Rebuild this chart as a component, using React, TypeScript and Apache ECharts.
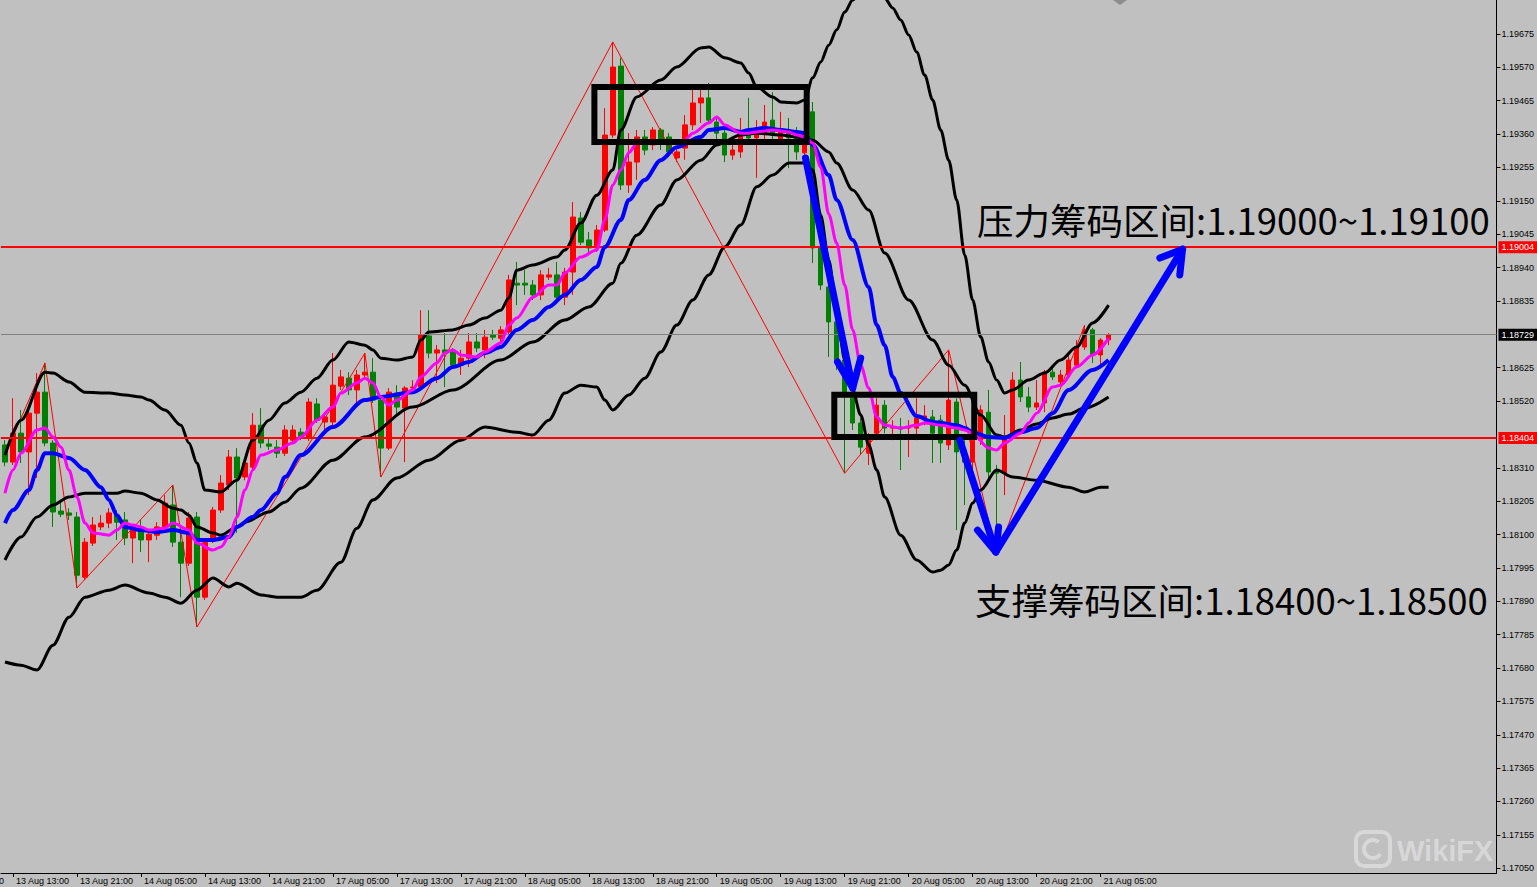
import React, { useEffect, useRef } from "react";
import * as echarts from "echarts";

// ---------- axis structure ----------
const sessionDays: [string, number, number][] = [
  ["13 Aug", 12, 23],
  ["14 Aug", 0, 23],
  ["17 Aug", 0, 23],
  ["18 Aug", 0, 23],
  ["19 Aug", 0, 23],
  ["20 Aug", 0, 23],
  ["21 Aug", 0, 6],
];
const emptySlots = 48;

const xTickLabels = [
  "13 Aug 13:00", "13 Aug 21:00", "14 Aug 05:00", "14 Aug 13:00", "14 Aug 21:00",
  "17 Aug 05:00", "17 Aug 13:00", "17 Aug 21:00", "18 Aug 05:00", "18 Aug 13:00",
  "18 Aug 21:00", "19 Aug 05:00", "19 Aug 13:00", "19 Aug 21:00", "20 Aug 05:00",
  "20 Aug 13:00", "20 Aug 21:00", "21 Aug 05:00",
];

const yTickValues = [
  1.1705, 1.17155, 1.1726, 1.17365, 1.1747, 1.17575, 1.1768, 1.17785, 1.1789,
  1.17995, 1.181, 1.18205, 1.1831, 1.1852, 1.18625, 1.18835, 1.1894, 1.19045,
  1.1915, 1.19255, 1.1936, 1.19465, 1.1957, 1.19675,
];
const yMin = 1.17035;
const yMax = 1.19782;

// ---------- price levels ----------
const resistanceLevel = 1.19004;
const supportLevel = 1.18404;
const bidPrice = 1.18729;

// ---------- candles: [open, close, low, high] ----------
const candles: number[][] = [
  [1.18382, 1.18328, 1.18315, 1.18397], [1.18328, 1.18419, 1.18319, 1.18529],
  [1.18419, 1.1836, 1.18325, 1.18492], [1.1836, 1.18482, 1.18224, 1.18498],
  [1.18482, 1.18548, 1.18278, 1.18608], [1.18548, 1.18388, 1.18378, 1.1864],
  [1.18388, 1.18171, 1.18124, 1.18397], [1.18174, 1.18164, 1.18155, 1.18209],
  [1.18168, 1.18161, 1.18146, 1.18183], [1.18155, 1.17972, 1.17932, 1.18171],
  [1.17966, 1.18076, 1.17957, 1.18089], [1.18073, 1.1813, 1.18064, 1.18155],
  [1.18124, 1.18136, 1.18114, 1.18161], [1.18136, 1.18168, 1.1812, 1.18183],
  [1.18161, 1.18139, 1.18083, 1.18177], [1.18146, 1.18089, 1.18067, 1.18171],
  [1.18089, 1.18117, 1.1801, 1.1813], [1.18114, 1.18083, 1.18045, 1.18146],
  [1.18083, 1.18101, 1.18013, 1.18114], [1.18098, 1.18124, 1.18083, 1.18139],
  [1.18124, 1.18199, 1.18114, 1.18224], [1.18193, 1.18076, 1.18061, 1.18256],
  [1.18076, 1.1801, 1.17903, 1.18114], [1.1801, 1.18152, 1.18001, 1.18171],
  [1.18155, 1.17903, 1.17809, 1.18171], [1.17903, 1.18076, 1.17894, 1.18083],
  [1.18083, 1.18177, 1.18073, 1.18187], [1.18177, 1.18262, 1.18168, 1.18287],
  [1.18256, 1.18344, 1.1824, 1.18366], [1.18344, 1.18278, 1.18105, 1.18372],
  [1.18281, 1.18325, 1.18271, 1.18341], [1.18312, 1.18444, 1.18303, 1.18482],
  [1.18444, 1.18388, 1.18372, 1.18498], [1.18385, 1.18378, 1.18366, 1.18404],
  [1.18375, 1.18356, 1.18341, 1.18397], [1.18356, 1.18429, 1.18347, 1.18444],
  [1.18397, 1.18429, 1.18388, 1.18444], [1.18422, 1.18407, 1.18397, 1.18435],
  [1.18404, 1.18517, 1.18394, 1.18529], [1.18511, 1.1846, 1.18451, 1.18529],
  [1.18454, 1.1847, 1.18429, 1.18485], [1.18454, 1.1857, 1.18444, 1.18671],
  [1.18567, 1.18596, 1.18555, 1.18618], [1.18592, 1.18555, 1.18539, 1.18611],
  [1.18555, 1.18602, 1.18514, 1.18618], [1.18602, 1.18611, 1.18586, 1.18671],
  [1.18611, 1.18523, 1.18514, 1.18655], [1.18523, 1.18372, 1.18281, 1.18533],
  [1.18372, 1.18548, 1.18366, 1.18561], [1.18545, 1.18501, 1.18476, 1.1857],
  [1.18498, 1.18561, 1.18328, 1.18567], [1.18561, 1.18564, 1.18548, 1.18586],
  [1.18564, 1.18728, 1.18555, 1.18806], [1.18725, 1.18671, 1.18655, 1.18806],
  [1.18671, 1.18681, 1.18577, 1.18696], [1.18681, 1.18671, 1.18564, 1.18734],
  [1.18674, 1.18633, 1.18624, 1.18687], [1.18633, 1.18655, 1.18602, 1.18681],
  [1.18655, 1.18706, 1.18627, 1.18734], [1.18706, 1.18687, 1.18674, 1.18734],
  [1.18681, 1.18721, 1.18655, 1.18744], [1.18728, 1.18721, 1.18712, 1.18744],
  [1.18718, 1.18744, 1.18706, 1.18756], [1.18737, 1.18901, 1.18728, 1.18917],
  [1.18891, 1.18885, 1.18822, 1.18958], [1.18891, 1.18885, 1.18854, 1.18932],
  [1.18885, 1.18854, 1.18838, 1.18901], [1.18854, 1.18917, 1.18838, 1.18932],
  [1.1891, 1.18917, 1.18901, 1.18939], [1.18917, 1.18847, 1.18838, 1.18958],
  [1.18847, 1.18926, 1.18822, 1.18939], [1.18926, 1.19099, 1.18854, 1.19146],
  [1.19096, 1.1902, 1.19011, 1.19115], [1.19027, 1.19002, 1.1898, 1.19052],
  [1.19002, 1.19058, 1.18989, 1.19074], [1.19058, 1.19357, 1.19052, 1.19442],
  [1.19357, 1.19571, 1.19348, 1.1965], [1.19574, 1.192, 1.19184, 1.196],
  [1.192, 1.19272, 1.19175, 1.19363], [1.19272, 1.19351, 1.19216, 1.19373],
  [1.19351, 1.1931, 1.19294, 1.19373], [1.19326, 1.19373, 1.1931, 1.19382],
  [1.19373, 1.19332, 1.1931, 1.19379], [1.19351, 1.19304, 1.19288, 1.19363],
  [1.19285, 1.19304, 1.19272, 1.19316], [1.19316, 1.19389, 1.19279, 1.1942],
  [1.19389, 1.19458, 1.19373, 1.19505], [1.19458, 1.19474, 1.19395, 1.19499],
  [1.19474, 1.19404, 1.19395, 1.19521], [1.19398, 1.19363, 1.19326, 1.19411],
  [1.19363, 1.19294, 1.19272, 1.19373], [1.19294, 1.1931, 1.19279, 1.19326],
  [1.19304, 1.19367, 1.19285, 1.19411], [1.19367, 1.19348, 1.19326, 1.19474],
  [1.19348, 1.19367, 1.19222, 1.19404], [1.19363, 1.19398, 1.19341, 1.19452],
  [1.19404, 1.19363, 1.19332, 1.19492], [1.19341, 1.19373, 1.19326, 1.1943],
  [1.19367, 1.19348, 1.19253, 1.19411], [1.19348, 1.19304, 1.19279, 1.19382],
  [1.19301, 1.19351, 1.19285, 1.19367], [1.1943, 1.19002, 1.18954, 1.19461],
  [1.19002, 1.18885, 1.18869, 1.19014], [1.18879, 1.18769, 1.18659, 1.18901],
  [1.18769, 1.18649, 1.18618, 1.18838], [1.18649, 1.18548, 1.18293, 1.18696],
  [1.18529, 1.18451, 1.18429, 1.18548], [1.18451, 1.18375, 1.1835, 1.18467],
  [1.18356, 1.18397, 1.18319, 1.18419], [1.18419, 1.18507, 1.18397, 1.18529],
  [1.18507, 1.18435, 1.18419, 1.18523], [1.18435, 1.18438, 1.18397, 1.1846],
  [1.18438, 1.18432, 1.18303, 1.18467], [1.18435, 1.18438, 1.18344, 1.1846],
  [1.18435, 1.18467, 1.18397, 1.18529], [1.18467, 1.18473, 1.18444, 1.18507],
  [1.1847, 1.18419, 1.18325, 1.18492], [1.1846, 1.18388, 1.18325, 1.18476],
  [1.18382, 1.18523, 1.18366, 1.18681], [1.18517, 1.1836, 1.18114, 1.18529],
  [1.18366, 1.18328, 1.18193, 1.18397], [1.18328, 1.18397, 1.18303, 1.18413],
  [1.18397, 1.18492, 1.18382, 1.18507], [1.18485, 1.18297, 1.18278, 1.18555],
  [1.18303, 1.18293, 1.18035, 1.18319], [1.18293, 1.18404, 1.18224, 1.18476],
  [1.18404, 1.18586, 1.18397, 1.18611], [1.18586, 1.18533, 1.18517, 1.18643],
  [1.18533, 1.18501, 1.18485, 1.18564], [1.18501, 1.18514, 1.18492, 1.18586],
  [1.18514, 1.18611, 1.18485, 1.18618], [1.18611, 1.18596, 1.18586, 1.18624],
  [1.1858, 1.18602, 1.18567, 1.18618], [1.18602, 1.18649, 1.18592, 1.18665],
  [1.18633, 1.1869, 1.18624, 1.18712], [1.1869, 1.18744, 1.18681, 1.18759],
  [1.18744, 1.18665, 1.1864, 1.1875], [1.18665, 1.18712, 1.18627, 1.18718],
  [1.18712, 1.18729, 1.18696, 1.18734],
];

// ---------- indicator lines: [bar index, price] ----------
const bbUpper: number[][] = [
  [0, 1.1835], [2, 1.1846], [5, 1.18611], [6, 1.18608], [8, 1.1858], [10, 1.18548],
  [13, 1.18545], [15, 1.18539], [17, 1.18533], [18, 1.18523], [20, 1.18492],
  [22, 1.18444], [23, 1.18388], [24, 1.18325], [25, 1.1824], [27, 1.18234],
  [29, 1.18271], [31, 1.18397], [33, 1.1846], [35, 1.18514], [37, 1.18548],
  [39, 1.18592], [41, 1.18649], [43, 1.18706], [45, 1.18696], [46, 1.18681],
  [47, 1.18655], [49, 1.18649], [51, 1.18659], [52, 1.18712], [53, 1.18737],
  [56, 1.18744], [58, 1.18759], [60, 1.18781], [62, 1.18806], [63, 1.18844],
  [64, 1.18932], [66, 1.18948], [69, 1.18973], [70, 1.18995], [72, 1.1908],
  [74, 1.19168], [76, 1.19247], [77, 1.19373], [79, 1.19477], [82, 1.1953],
  [84, 1.19571], [87, 1.19631], [88, 1.19634], [90, 1.196], [92, 1.19584],
  [93, 1.19552], [94, 1.19508], [96, 1.19477], [97, 1.19461], [99, 1.19458],
  [100, 1.19467], [101, 1.19537], [102, 1.19587], [103, 1.1964], [104, 1.19688],
  [105, 1.19744], [106, 1.19782], [107, 1.19807], [108, 1.19813], [109, 1.19807],
  [110, 1.19788], [111, 1.19757], [112, 1.19719], [113, 1.19672], [114, 1.19618],
  [115, 1.19546], [116, 1.19467], [117, 1.19373], [118, 1.19278], [119, 1.19153],
  [120, 1.1898], [121, 1.18838], [122, 1.18722], [123, 1.18643], [124, 1.18586],
  [125, 1.18545], [126, 1.18555], [128, 1.18586], [130, 1.18608], [132, 1.18649],
  [134, 1.1869], [136, 1.18766], [138, 1.18822],
];

const bbMiddle: number[][] = [
  [0, 1.1802], [2, 1.18092], [4, 1.18155], [6, 1.18193], [8, 1.18218], [10, 1.1823],
  [12, 1.1823], [14, 1.1823], [15, 1.18237], [17, 1.1823], [19, 1.18209],
  [21, 1.18183], [22, 1.18177], [23, 1.18161], [24, 1.18124], [26, 1.18105],
  [27, 1.18098], [29, 1.18124], [30, 1.18139], [33, 1.18171], [35, 1.18202],
  [37, 1.18246], [41, 1.18334], [45, 1.18407], [51, 1.18501], [56, 1.18555],
  [62, 1.18649], [66, 1.18706], [70, 1.18775], [73, 1.18816], [76, 1.18891],
  [77, 1.18954], [79, 1.19042], [82, 1.19137], [84, 1.19216], [87, 1.19278],
  [89, 1.19326], [92, 1.19357], [94, 1.19363], [97, 1.19357], [99, 1.19351],
  [101, 1.19341], [103, 1.19304], [104, 1.19269], [106, 1.19184], [108, 1.19121],
  [110, 1.18986], [113, 1.18838], [116, 1.18712], [118, 1.18633], [120, 1.1857],
  [122, 1.18476], [124, 1.18413], [125, 1.18407], [127, 1.18429], [129, 1.18448],
  [131, 1.18467], [133, 1.18479], [135, 1.18498], [138, 1.18533],
];

const bbLower: number[][] = [
  [0, 1.17699], [2, 1.17689], [4, 1.17674], [6, 1.17752], [8, 1.1784], [10, 1.17903],
  [13, 1.17925], [15, 1.17941], [18, 1.17916], [20, 1.17903], [22, 1.17884],
  [24, 1.17925], [26, 1.17963], [28, 1.17935], [29, 1.17947], [32, 1.1791],
  [34, 1.17903], [37, 1.17903], [39, 1.17925], [42, 1.18013], [44, 1.1812],
  [46, 1.18209], [49, 1.18278], [53, 1.18334], [57, 1.18397], [60, 1.18438],
  [64, 1.18422], [66, 1.18413], [68, 1.1846], [70, 1.18545], [72, 1.1857],
  [74, 1.18564], [75, 1.18523], [76, 1.18492], [78, 1.18539], [80, 1.18592],
  [82, 1.18674], [84, 1.18759], [86, 1.18838], [88, 1.18917], [90, 1.19005],
  [92, 1.19074], [94, 1.19194], [96, 1.19231], [98, 1.19269], [100, 1.19269],
  [101, 1.19247], [102, 1.19105], [103, 1.18964], [104, 1.18806], [105, 1.18649],
  [106, 1.18555], [107, 1.18476], [108, 1.18382], [109, 1.18303], [110, 1.18218],
  [112, 1.18098], [114, 1.1802], [116, 1.17982], [117, 1.17988], [118, 1.18004],
  [119, 1.18051], [120, 1.18136], [121, 1.18199], [122, 1.1824], [124, 1.18303],
  [126, 1.18281], [129, 1.18271], [133, 1.18249], [135, 1.18234], [137, 1.18249],
  [138, 1.18249],
];

const fastMA: number[][] = [
  [0, 1.1823], [1, 1.18303], [2, 1.18356], [4, 1.18429], [5, 1.18435], [6, 1.18407],
  [7, 1.18375], [8, 1.18303], [9, 1.18218], [10, 1.18136], [11, 1.18105],
  [13, 1.18098], [14, 1.18114], [15, 1.18136], [16, 1.1813], [17, 1.18124],
  [18, 1.18114], [20, 1.1812], [21, 1.18136], [23, 1.18114], [24, 1.18073],
  [26, 1.18051], [27, 1.18061], [28, 1.18092], [29, 1.18155], [30, 1.1824],
  [31, 1.18303], [32, 1.1835], [34, 1.18366], [36, 1.18388], [37, 1.18407],
  [39, 1.1846], [41, 1.18501], [42, 1.18545], [44, 1.18577], [45, 1.18592],
  [46, 1.18577], [47, 1.18533], [48, 1.18507], [49, 1.18523], [51, 1.18555],
  [52, 1.18596], [54, 1.1864], [55, 1.18671], [56, 1.18681], [57, 1.18665],
  [59, 1.18659], [60, 1.18674], [62, 1.18703], [63, 1.18759], [64, 1.18781],
  [66, 1.18847], [68, 1.18885], [69, 1.18885], [70, 1.18923], [72, 1.18973],
  [74, 1.18995], [75, 1.1909], [76, 1.192], [77, 1.19247], [78, 1.19301],
  [79, 1.19332], [80, 1.19341], [82, 1.19335], [84, 1.19338], [85, 1.19341],
  [86, 1.19363], [88, 1.19395], [89, 1.19414], [90, 1.19389], [92, 1.19363],
  [93, 1.19363], [94, 1.19367], [96, 1.19373], [98, 1.19367], [99, 1.19357],
  [100, 1.19351], [101, 1.19332], [102, 1.19256], [103, 1.19108], [104, 1.19017],
  [105, 1.18885], [106, 1.18744], [107, 1.18633], [108, 1.18561], [109, 1.1847],
  [110, 1.18444], [112, 1.18435], [114, 1.18444], [115, 1.18451], [117, 1.18444],
  [119, 1.18435], [120, 1.18429], [121, 1.18419], [123, 1.18372], [124, 1.18366],
  [125, 1.18388], [127, 1.18419], [128, 1.18451], [129, 1.18482], [131, 1.18564],
  [132, 1.1857], [134, 1.18627], [136, 1.18665], [138, 1.18718],
];

const slowMA: number[][] = [
  [0, 1.18136], [1, 1.18177], [3, 1.1824], [4, 1.18303], [5, 1.18356], [6, 1.18356],
  [8, 1.18341], [10, 1.18303], [12, 1.18249], [13, 1.18209], [14, 1.18161],
  [15, 1.18124], [17, 1.18114], [19, 1.18108], [21, 1.18114], [23, 1.18105],
  [24, 1.18083], [26, 1.18083], [28, 1.18092], [29, 1.18124], [31, 1.18155],
  [32, 1.18177], [34, 1.1823], [35, 1.18281], [37, 1.1835], [41, 1.18438],
  [45, 1.18523], [47, 1.18533], [51, 1.18548], [54, 1.18592], [56, 1.18627],
  [58, 1.18643], [60, 1.18671], [62, 1.1869], [64, 1.18744], [66, 1.18775],
  [68, 1.18816], [70, 1.18854], [72, 1.18901], [74, 1.18942], [75, 1.19005],
  [77, 1.1909], [78, 1.19153], [80, 1.19216], [82, 1.19278], [84, 1.19319],
  [87, 1.19351], [88, 1.19373], [90, 1.19379], [92, 1.19367], [93, 1.19373],
  [95, 1.19379], [97, 1.19373], [99, 1.19367], [100, 1.19363], [101, 1.19326],
  [103, 1.19231], [104, 1.19153], [106, 1.19027], [108, 1.18879], [109, 1.18759],
  [110, 1.18696], [111, 1.18596], [112, 1.18545], [114, 1.18473], [116, 1.18454],
  [117, 1.18451], [119, 1.18444], [120, 1.18435], [121, 1.18422], [123, 1.18407],
  [125, 1.18404], [127, 1.18422], [129, 1.18435], [131, 1.18482], [133, 1.18555],
  [136, 1.18618], [138, 1.18649],
];

const zigzag: number[][] = [
  [0, 1.1835], [5, 1.1864], [9, 1.17932], [21, 1.18256], [24, 1.17809],
  [45, 1.18671], [47, 1.18281], [76, 1.1965], [105, 1.18293], [118, 1.18681],
  [124, 1.18035], [135, 1.18759],
];

// ---------- annotations (bar index, price) ----------
const zoneBoxes = [
  { x0: 73.7, x1: 100.25, top: 1.19508, bottom: 1.19335 },
  { x0: 103.7, x1: 121.2, top: 1.1854, bottom: 1.18407 },
];
const arrows = [
  { from: [100.1, 1.19285], to: [106, 1.18561], wingA: [104.1, 1.18643], wingB: [107, 1.18655] },
  { from: [119.4, 1.18397], to: [123.9, 1.18045], wingA: [121.6, 1.18114], wingB: [124.25, 1.18124] },
  { from: [123.9, 1.18045], to: [147.25, 1.18998], wingA: [144.4, 1.1897], wingB: [146.9, 1.18917] },
];
const resistanceNote = "压力筹码区间:1.19000~1.19100";
const supportNote = "支撑筹码区间:1.18400~1.18500";

const categories: string[] = [];
sessionDays.forEach(([d, h0, h1]) => {
  for (let h = h0; h <= h1; h++) categories.push(`${d} ${String(h).padStart(2, "0")}:00`);
});
for (let k = 1; k <= emptySlots; k++) categories.push(`+${k}`);

const AXIS_FONT = "Liberation Sans";

export default function App() {
  const ref = useRef<HTMLDivElement>(null);

  useEffect(() => {
    const el = ref.current;
    if (!el) return;
    const chart = echarts.init(el, undefined, { renderer: "svg", width: 1537, height: 887 });
    const showTick = (_i: number, v: string) => xTickLabels.includes(v);

    const level = (value: number, color: string, width: number, bg: string) => ({
      yAxis: value,
      lineStyle: { color, width, type: "solid" },
      label: {
        show: true,
        position: "end",
        distance: 2,
        formatter: () => value.toFixed(5),
        backgroundColor: bg,
        color: "#ffffff",
        fontSize: 9,
        fontFamily: AXIS_FONT,
        padding: [2, 3, 1, 3],
      },
    });

    const line = (data: number[][], color: string, width: number, z: number, smooth: number | boolean = 0.3) => ({
      type: "line",
      data,
      symbol: "none",
      smooth,
      smoothMonotone: "x",
      silent: true,
      z,
      lineStyle: { color, width },
    });

    chart.setOption({
      animation: false,
      backgroundColor: "#c0c0c0",
      grid: { left: 1, right: 40, top: 0, bottom: 14, containLabel: false },
      xAxis: {
        type: "category",
        data: categories,
        boundaryGap: true,
        axisLine: { show: true, lineStyle: { color: "#000000", width: 1 } },
        axisTick: { show: true, alignWithLabel: true, interval: showTick, length: 4, lineStyle: { color: "#000000" } },
        axisLabel: {
          interval: showTick,
          align: "left",
          padding: [0, 0, 0, 3],
          margin: 3,
          fontSize: 9,
          fontFamily: AXIS_FONT,
          color: "#000000",
        },
        splitLine: { show: false },
      },
      yAxis: {
        type: "value",
        position: "right",
        min: yMin,
        max: yMax,
        axisLine: { show: true, lineStyle: { color: "#000000", width: 1 } },
        axisTick: { show: true, length: 4, customValues: yTickValues, lineStyle: { color: "#000000" } },
        axisLabel: {
          customValues: yTickValues,
          formatter: (v: number) => v.toFixed(5),
          fontSize: 9,
          fontFamily: AXIS_FONT,
          color: "#000000",
          margin: 5,
        },
        splitLine: { show: false },
      },
      series: [
        {
          type: "candlestick",
          data: candles,
          barWidth: 5,
          z: 2,
          itemStyle: {
            color: "#ff0000",
            color0: "#008000",
            borderColor: "#ff0000",
            borderColor0: "#008000",
            borderWidth: 1,
          },
          markLine: {
            symbol: ["none", "none"],
            silent: true,
            precision: 5,
            data: [
              level(bidPrice, "#808080", 1, "#000000"),
              level(resistanceLevel, "#ff0000", 2, "#ff0000"),
              level(supportLevel, "#ff0000", 2, "#ff0000"),
            ],
          },
        },
        line(zigzag, "#ff0000", 1, 3, false),
        line(bbUpper, "#000000", 3, 4),
        line(bbMiddle, "#000000", 3, 4),
        line(bbLower, "#000000", 3, 4),
        line(slowMA, "#0000ff", 4, 5),
        line(fastMA, "#ff00ff", 3, 6),
      ],
    });

    const px = (idx: number, price: number) => {
      const a = chart.convertToPixel({ seriesIndex: 0 }, [0, price]) as number[];
      const b = chart.convertToPixel({ seriesIndex: 0 }, [1, price]) as number[];
      return [a[0] + (b[0] - a[0]) * idx, a[1]];
    };

    const graphics: any[] = [];
    zoneBoxes.forEach((bx) => {
      const p0 = px(bx.x0, bx.top);
      const p1 = px(bx.x1, bx.bottom);
      graphics.push({
        type: "rect",
        z: 100,
        shape: { x: p0[0], y: p0[1], width: p1[0] - p0[0], height: p1[1] - p0[1] },
        style: { fill: "none", stroke: "#000000", lineWidth: 6 },
      });
    });
    arrows.forEach((ar) => {
      const f = px(ar.from[0], ar.from[1]);
      const t = px(ar.to[0], ar.to[1]);
      const wa = px(ar.wingA[0], ar.wingA[1]);
      const wb = px(ar.wingB[0], ar.wingB[1]);
      graphics.push({
        type: "polyline",
        z: 101,
        shape: { points: [f, t] },
        style: { stroke: "#0000ff", lineWidth: 7, lineCap: "round", fill: "none" },
      });
      graphics.push({
        type: "polyline",
        z: 101,
        shape: { points: [wa, t, wb] },
        style: { stroke: "#0000ff", lineWidth: 7, lineCap: "round", lineJoin: "round", fill: "none" },
      });
    });
    const noteFont = '36.5px "Noto Sans CJK SC"';
    graphics.push({
      type: "text",
      z: 110,
      x: 977,
      y: 219,
      style: { text: resistanceNote, font: noteFont, fill: "#000000", verticalAlign: "middle" },
    });
    graphics.push({
      type: "text",
      z: 110,
      x: 975,
      y: 599,
      style: { text: supportNote, font: noteFont, fill: "#000000", verticalAlign: "middle" },
    });
    // cut-off label fragment at the left edge
    graphics.push({
      type: "text",
      z: 110,
      x: -1,
      y: 881,
      style: { text: "0", font: `9px "${AXIS_FONT}"`, fill: "#000000", verticalAlign: "middle" },
    });
    // small gray marker at top
    graphics.push({
      type: "polygon",
      z: 90,
      shape: { points: [[1113, 0], [1127, 0], [1120, 5]] },
      style: { fill: "#8c8c8c" },
    });
    // watermark
    const wm = "rgba(255,255,255,0.38)";
    graphics.push({
      type: "rect",
      z: 120,
      shape: { x: 1356, y: 832, width: 34, height: 34, r: 8 },
      style: { fill: "none", stroke: wm, lineWidth: 4 },
    });
    graphics.push({
      type: "arc",
      z: 120,
      shape: { cx: 1373, cy: 849, r: 9, startAngle: 0.6, endAngle: 5.4 },
      style: { fill: "none", stroke: wm, lineWidth: 4 },
    });
    graphics.push({
      type: "text",
      z: 120,
      x: 1397,
      y: 851,
      style: { text: "WikiFX", font: 'bold 29px "Liberation Sans"', fill: wm, verticalAlign: "middle" },
    });

    chart.setOption({ graphic: graphics });

    return () => chart.dispose();
  }, []);

  return (
    <div
      ref={ref}
      style={{ position: "fixed", left: 0, top: 0, width: 1537, height: 887, background: "#c0c0c0" }}
    />
  );
}
